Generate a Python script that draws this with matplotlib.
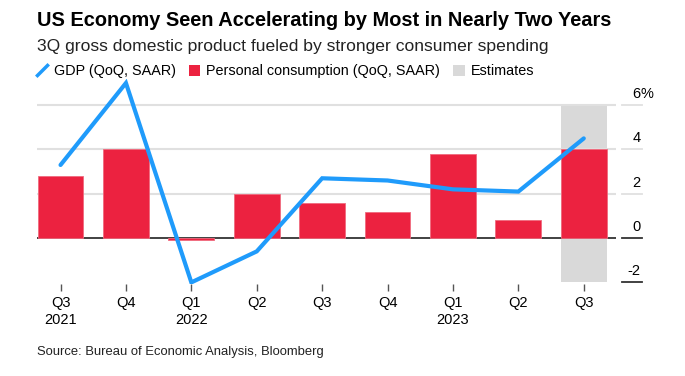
import matplotlib
matplotlib.use('Agg')
import matplotlib.pyplot as plt
import matplotlib.transforms as mtransforms
from matplotlib.lines import Line2D
from matplotlib.patches import Patch

plt.rcParams['font.family'] = ['Liberation Sans', 'DejaVu Sans']

# Data
quarters = ['Q3\n2021', 'Q4', 'Q1\n2022', 'Q2', 'Q3', 'Q4', 'Q1\n2023', 'Q2', 'Q3']
gdp = [3.3, 7.0, -2.0, -0.6, 2.7, 2.6, 2.2, 2.1, 4.5]
consumption = [2.8, 4.0, -0.1, 2.0, 1.6, 1.2, 3.8, 0.8, 4.0]
estimate_idx = 8
estimate_range = (-2, 6)
yticks = [-2, 0, 2, 4, 6]
ytick_labels = ['-2', '0', '2', '4', '6']

BLUE = '#1f9bfb'
RED = '#ec2240'
GRAY = '#d9d9d9'

fig = plt.figure(figsize=(6.85, 3.76), dpi=100)
ax = fig.add_axes([0.054, 0.246, 0.845, 0.545])

x = list(range(len(quarters)))

# estimate band
ax.bar(estimate_idx, estimate_range[1] - estimate_range[0], bottom=estimate_range[0],
       width=0.7, color=GRAY, zorder=0.5)

for y in [2, 4, 6]:
    ax.axhline(y, color='#e0e0e0', lw=1.5, zorder=0.8)

ax.axhline(0, color='#333333', lw=1.3, zorder=1.9)
ax.bar(x, consumption, width=0.7, color=RED, edgecolor='#f06a7e', linewidth=0.6, zorder=2)
ax.plot(x, gdp, color=BLUE, lw=3.0, solid_capstyle='round', solid_joinstyle='miter', zorder=3)

ax.set_xlim(-0.36, 8.49)
ax.set_ylim(-2.05, 7.2)
ax.set_xticks(x)
ax.set_xticklabels(quarters, fontsize=10.5, linespacing=1.3)
ax.tick_params(axis='x', length=5, width=1, color='#555555', pad=4)
ax.set_yticks([])

# right-hand value labels sitting above short marks
ytrans = ax.get_yaxis_transform()
up = mtransforms.ScaledTranslation(0, 3 / 72, fig.dpi_scale_trans)
for y, lab in zip(yticks, ytick_labels):
    mark_color = '#333333' if y <= 0 else '#e0e0e0'
    ax.plot([1.0104, 1.045], [y, y], transform=ytrans, color=mark_color, lw=1.3,
            clip_on=False)
    ax.text(1.043, y, lab, transform=ytrans + up, ha='right', va='bottom', fontsize=10.5)
    if y == 6:
        ax.text(1.043, y, '%', transform=ytrans + up, ha='left', va='bottom', fontsize=10.5)

for s in ax.spines.values():
    s.set_visible(False)

# titles
fig.text(0.054, 0.945, 'US Economy Seen Accelerating by Most in Nearly Two Years',
         fontsize=14.4, fontweight='bold', va='center', ha='left')
fig.text(0.054, 0.877, '3Q gross domestic product fueled by stronger consumer spending',
         fontsize=12.6, va='center', ha='left', color='#222222')

handles = [
    Line2D([], [], marker=[(-1, -1), (1, 1)], linestyle='none', markersize=9,
           markeredgewidth=2.5, color=BLUE),
    Patch(facecolor=RED),
    Patch(facecolor=GRAY),
]
labels = ['GDP (QoQ, SAAR)', 'Personal consumption (QoQ, SAAR)', 'Estimates']
fig.legend(handles, labels, loc='center left', bbox_to_anchor=(0.045, 0.81), ncol=3,
           frameon=False, fontsize=10.4, handlelength=0.8, handleheight=0.8,
           handletextpad=0.4, columnspacing=0.9, borderaxespad=0)

fig.text(0.054, 0.064, 'Source: Bureau of Economic Analysis, Bloomberg',
         fontsize=9.4, va='center', ha='left', color='#222222')

fig.savefig('out.png', dpi=100)
